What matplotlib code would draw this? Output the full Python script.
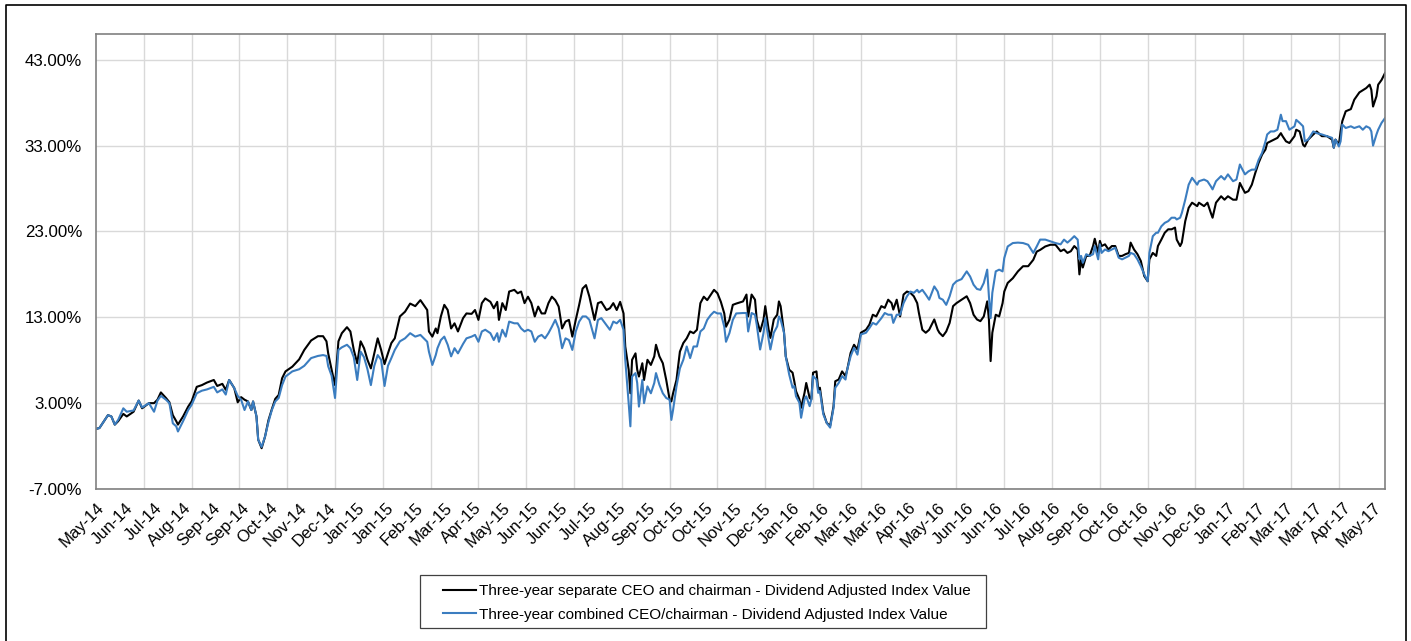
import numpy as np
import matplotlib.pyplot as plt
from matplotlib.lines import Line2D
from matplotlib.patches import Rectangle

plt.rcParams['font.family'] = ['Liberation Sans', 'DejaVu Sans']

# trading-day index (0 = first day) and cumulative index values in %
day = [0, 2, 7, 9, 11, 13, 16, 18, 22, 25, 27, 31, 34, 36, 38, 41, 43, 45, 47, 48,
       51, 54, 56, 59, 62, 65, 69, 71, 74, 76, 78, 81, 83, 85, 87, 89, 91, 92, 94, 95,
       97, 99, 101, 103, 105, 107, 109, 111, 115, 119, 122, 126, 130, 133, 135, 136, 138, 140, 142, 144,
       147, 149, 151, 153, 155, 157, 159, 161, 163, 165, 167, 169, 171, 173, 175, 178, 181, 184, 187, 190,
       194, 195, 197, 199, 200, 202, 204, 206, 208, 210, 212, 215, 217, 220, 222, 224, 226, 228, 231, 233,
       235, 236, 238, 240, 242, 245, 247, 249, 251, 253, 255, 257, 259, 261, 263, 265, 267, 269, 271, 273,
       275, 277, 279, 281, 283, 285, 287, 289, 292, 294, 296, 299, 301, 303, 305, 307, 309, 310, 312, 313,
       314, 316, 317, 318, 320, 321, 323, 325, 327, 328, 330, 332, 334, 336, 337, 338, 340, 342, 344, 346,
       348, 350, 352, 354, 356, 358, 360, 362, 364, 366, 368, 369, 371, 373, 375, 379, 381, 382, 384, 386,
       387, 389, 391, 392, 394, 395, 397, 399, 400, 401, 403, 404, 406, 408, 409, 410, 412, 413, 415, 416,
       418, 419, 420, 422, 423, 424, 426, 428, 430, 432, 433, 435, 437, 439, 440, 442, 444, 446, 448, 451,
       453, 455, 457, 460, 462, 464, 466, 467, 469, 471, 473, 475, 477, 479, 481, 482, 484, 486, 488, 491,
       493, 494, 496, 498, 500, 502, 504, 507, 510, 512, 514, 516, 518, 520, 522, 523, 524, 525, 527, 529,
       531, 532, 534, 537, 540, 543, 546, 549, 551, 553, 556, 559, 562, 565, 567, 569, 571, 573, 575, 576,
       577, 578, 580, 582, 584, 585, 587, 588, 589, 591, 593, 595, 597, 599, 601, 603, 605, 606, 608, 610,
       612, 614, 616, 617, 619, 621, 622, 624, 626, 628, 630, 632, 633, 635, 636, 638, 640, 642, 645, 646,
       649, 651, 653, 654, 656, 659, 661, 663, 666, 668, 670, 671, 673, 675, 677, 679, 681, 683, 685, 686,
       688, 690, 692, 694, 695, 697, 699, 702, 703, 705, 707, 708, 710, 713, 715, 718, 721, 724, 725, 726,
       728, 729, 730, 732, 735, 737, 740, 742, 744, 746, 747, 748, 750, 751, 753, 755]

separate = [0.0, 0.1, 1.6, 1.45, 0.5, 0.9, 1.75, 1.45, 2.0, 3.3, 2.4, 3.0, 3.0, 3.4, 4.25, 3.6, 3.1, 1.6, 0.9, 0.5,
            1.45, 2.6, 3.2, 4.9, 5.1, 5.4, 5.7, 5.0, 5.25, 4.55, 5.7, 4.75, 3.1, 3.7, 3.4, 3.2, 2.2, 3.2, 1.45, -1.25,
            -2.25, -0.9, 1.0, 2.3, 3.5, 3.95, 5.9, 6.7, 7.25, 8.1, 9.2, 10.3, 10.8, 10.8, 10.2, 8.8, 6.9, 5.1, 10.2, 11.15,
            11.85, 11.35, 9.2, 7.65, 10.2, 9.4, 8.05, 7.05, 8.8, 10.55, 9.2, 7.55, 8.8, 10.0, 10.55, 13.1, 13.65, 14.6, 14.3, 15.0,
            13.85, 11.35, 10.75, 11.7, 11.15, 13.1, 14.45, 13.85, 11.7, 12.3, 11.35, 12.9, 13.45, 13.4, 13.85, 12.7, 14.65, 15.2, 14.8, 14.05,
            14.8, 12.7, 14.65, 13.85, 16.0, 16.2, 15.8, 16.0, 14.65, 15.4, 14.65, 13.1, 14.25, 13.45, 13.45, 14.65, 15.4, 15.0, 14.25, 11.7,
            12.5, 12.7, 10.75, 12.7, 14.45, 16.35, 16.75, 15.4, 12.7, 14.65, 14.8, 13.85, 14.05, 14.65, 13.85, 14.8, 13.45, 9.6, 6.9, 4.15,
            8.05, 8.8, 6.9, 6.1, 7.65, 5.7, 8.05, 7.45, 8.45, 9.8, 8.45, 7.65, 5.7, 3.4, 3.2, 4.15, 5.7, 9.0, 10.0, 10.55,
            11.35, 11.15, 11.55, 14.65, 15.4, 15.0, 15.6, 16.2, 15.8, 14.8, 13.45, 11.9, 12.7, 14.45, 14.6, 14.85, 15.65, 13.1, 15.65, 15.05,
            12.75, 11.35, 12.75, 14.3, 11.55, 10.6, 12.75, 13.3, 14.85, 14.3, 11.2, 8.45, 6.9, 6.55, 5.55, 4.4, 3.45, 2.45, 4.2, 5.35,
            3.6, 3.45, 6.55, 6.7, 4.6, 4.8, 1.9, 0.7, 0.35, 2.65, 5.55, 5.75, 6.7, 6.15, 6.9, 8.85, 9.8, 9.25, 11.2, 11.55,
            12.15, 13.3, 13.1, 14.3, 14.1, 15.05, 14.65, 13.9, 15.05, 13.1, 15.65, 16.0, 15.85, 15.45, 14.65, 13.5, 11.55, 11.2, 11.55, 12.75,
            11.55, 11.2, 10.8, 11.35, 12.35, 14.3, 14.65, 15.05, 15.45, 14.65, 13.3, 12.75, 12.55, 13.1, 14.85, 12.75, 7.9, 11.2, 13.3, 13.1,
            14.65, 16.0, 17.0, 17.55, 18.35, 18.95, 18.95, 19.7, 20.65, 20.85, 21.25, 21.45, 21.45, 20.7, 20.9, 20.5, 20.7, 21.3, 20.9, 18.0,
            19.75, 18.8, 20.15, 20.15, 21.3, 22.15, 20.5, 21.9, 21.3, 21.5, 20.9, 21.3, 21.3, 20.15, 20.15, 20.35, 20.5, 21.7, 20.9, 20.35,
            19.55, 17.8, 17.2, 19.75, 20.5, 20.15, 21.3, 22.05, 22.85, 23.25, 23.25, 23.45, 22.05, 21.3, 21.7, 24.2, 25.75, 26.35, 25.95, 26.35,
            25.95, 26.35, 25.15, 24.6, 26.35, 27.1, 26.7, 27.1, 26.7, 26.7, 28.65, 28.25, 27.5, 27.7, 28.45, 29.8, 31.0, 31.95, 32.55, 33.3,
            33.5, 33.7, 33.9, 34.45, 34.1, 33.5, 33.3, 34.1, 34.85, 34.65, 33.1, 32.9, 33.7, 34.3, 34.65, 34.1, 34.1, 33.7, 32.75, 33.7,
            33.1, 34.65, 35.85, 37.0, 37.25, 38.35, 39.2, 39.45, 39.7, 40.1, 39.5, 37.55, 38.75, 40.1, 40.65, 41.45]

combined = [0.0, 0.1, 1.6, 1.45, 0.5, 1.05, 2.4, 2.0, 2.15, 3.3, 2.5, 3.0, 2.0, 3.3, 3.85, 3.4, 3.0, 0.65, 0.3, -0.3,
            0.9, 2.2, 2.8, 4.15, 4.45, 4.6, 4.9, 4.25, 4.6, 4.0, 5.7, 4.75, 3.85, 3.4, 2.2, 3.2, 2.2, 3.2, 1.45, -1.25,
            -2.1, -0.9, 0.8, 2.2, 3.2, 3.6, 5.1, 6.1, 6.7, 6.95, 7.35, 8.25, 8.5, 8.6, 8.5, 7.3, 6.2, 3.6, 9.2, 9.5,
            9.8, 9.4, 8.35, 5.7, 9.0, 8.35, 6.95, 5.1, 7.35, 8.6, 8.05, 5.0, 7.35, 8.25, 9.2, 10.2, 10.55, 11.15, 10.75, 10.95,
            10.15, 9.0, 7.45, 8.6, 9.4, 10.35, 10.75, 9.8, 8.45, 9.4, 8.8, 9.9, 10.55, 10.75, 10.95, 10.15, 11.35, 11.55, 11.15, 10.35,
            11.15, 10.15, 11.55, 10.75, 12.5, 12.3, 12.3, 11.7, 11.35, 11.55, 11.35, 10.15, 10.75, 10.95, 10.55, 11.15, 11.9, 12.7, 11.7, 9.4,
            10.55, 10.35, 9.2, 11.35, 12.5, 13.1, 13.1, 12.7, 10.55, 12.7, 12.9, 12.1, 11.55, 12.5, 12.3, 12.7, 11.55, 8.05, 3.0, 0.3,
            6.1, 6.5, 5.35, 2.6, 5.7, 3.0, 4.95, 4.15, 5.35, 6.5, 5.15, 4.15, 3.6, 3.4, 1.05, 2.2, 4.95, 7.05, 8.05, 9.6,
            8.25, 9.6, 9.6, 11.35, 11.7, 12.7, 13.25, 13.65, 13.45, 13.45, 11.9, 10.15, 11.15, 12.7, 13.45, 13.5, 13.5, 11.35, 13.5, 13.3,
            12.15, 9.25, 11.2, 12.9, 10.4, 9.25, 11.2, 11.95, 13.1, 12.75, 11.2, 8.45, 6.35, 4.8, 5.0, 3.8, 3.05, 1.3, 3.45, 3.8,
            2.65, 3.45, 6.15, 5.75, 4.2, 4.4, 1.7, 0.7, 0.15, 2.45, 4.8, 5.35, 6.15, 5.75, 6.9, 8.45, 9.45, 8.65, 11.0, 11.2,
            11.75, 12.35, 12.15, 12.9, 13.5, 13.3, 13.3, 12.35, 13.3, 13.3, 14.65, 15.45, 16.0, 15.85, 16.2, 15.9, 16.2, 15.65, 15.05, 16.6,
            16.0, 15.25, 15.05, 14.45, 15.45, 16.8, 17.2, 17.45, 18.35, 17.75, 16.8, 16.3, 16.2, 17.0, 18.55, 15.45, 12.9, 15.85, 18.35, 18.55,
            18.35, 19.9, 21.25, 21.65, 21.7, 21.65, 21.45, 20.5, 21.25, 22.05, 22.05, 21.85, 21.65, 21.5, 22.05, 21.7, 22.05, 22.45, 22.05, 19.75,
            20.15, 19.35, 20.35, 20.15, 20.35, 21.3, 19.75, 21.5, 20.5, 20.9, 20.7, 20.9, 21.1, 19.95, 19.75, 19.95, 20.15, 20.5, 20.35, 19.75,
            18.95, 18.0, 17.2, 20.5, 22.45, 22.85, 22.85, 23.6, 24.0, 24.2, 24.6, 24.6, 24.4, 24.6, 25.15, 26.7, 28.45, 29.25, 28.45, 28.85,
            29.05, 28.85, 28.25, 27.9, 28.85, 29.45, 29.05, 29.65, 28.85, 29.05, 30.8, 30.4, 29.65, 30.0, 30.2, 30.2, 31.35, 32.15, 33.5, 34.3,
            34.65, 34.65, 34.85, 36.6, 35.85, 35.85, 34.85, 35.25, 36.0, 35.65, 35.25, 33.5, 33.7, 34.65, 34.45, 34.3, 34.1, 33.9, 32.75, 33.7,
            32.9, 33.5, 35.45, 35.05, 35.25, 35.05, 35.25, 34.85, 35.25, 35.05, 34.65, 33.0, 34.3, 34.85, 35.65, 36.2]

labels = ['May-14', 'Jun-14', 'Jul-14', 'Aug-14', 'Sep-14', 'Sep-14', 'Oct-14', 'Nov-14', 'Dec-14',
          'Jan-15', 'Jan-15', 'Feb-15', 'Mar-15', 'Apr-15', 'May-15', 'Jun-15', 'Jun-15', 'Jul-15',
          'Aug-15', 'Sep-15', 'Oct-15', 'Oct-15', 'Nov-15', 'Dec-15', 'Jan-16', 'Feb-16', 'Mar-16',
          'Mar-16', 'Apr-16', 'May-16', 'Jun-16', 'Jun-16', 'Jul-16', 'Aug-16', 'Sep-16', 'Oct-16',
          'Oct-16', 'Nov-16', 'Dec-16', 'Jan-17', 'Feb-17', 'Mar-17', 'Mar-17', 'Apr-17', 'May-17']

n_days = 756
yticks = [-7, 3, 13, 23, 33, 43]

fig = plt.figure(figsize=(14.11, 6.41), dpi=100)
ax = fig.add_axes([96/1411, 1-489/641, (1385-96)/1411, (489-34)/641])

blue = '#3b7dc0'
ax.plot(day, separate, color='black', lw=1.5,
        label='Three-year separate CEO and chairman - Dividend Adjusted Index Value')
ax.plot(day, combined, color=blue, lw=1.5,
        label='Three-year combined CEO/chairman - Dividend Adjusted Index Value')

ax.set_xlim(0, n_days - 1)
ax.set_ylim(-7, 46)
ax.set_yticks(yticks)
ax.set_yticklabels(['%.2f%%' % v for v in yticks], fontsize=12.2)
ax.set_xticks(np.arange(0, n_days, 17))
ax.set_xticklabels(labels, rotation=45, ha='right', rotation_mode='anchor', fontsize=12)
ax.set_xticks(np.arange(0, n_days, 28), minor=True)
ax.tick_params(axis='both', which='both', length=0)
ax.tick_params(axis='x', pad=8)
ax.tick_params(axis='y', pad=10)
ax.grid(axis='y', which='major', color='#d9d9d9', lw=1)
ax.grid(axis='x', which='minor', color='#d9d9d9', lw=1)
ax.set_axisbelow(True)
for s in ax.spines.values():
    s.set_color('#808080')
    s.set_linewidth(1.2)

handles = [Line2D([], [], color='black', lw=1.5), Line2D([], [], color=blue, lw=1.5)]
fig.legend(handles, [l.get_label() for l in ax.get_lines()], loc='center',
           bbox_to_anchor=(707/1411, 1-603/641), fontsize=11, frameon=False,
           handlelength=2.2, handletextpad=0.2, borderpad=0.2, labelspacing=0.6)
fig.add_artist(Rectangle((420/1411, 1-628/641), 566/1411, 53/641, fill=False,
                         edgecolor='#404040', lw=0.9, transform=fig.transFigure))

# outer chart border
fig.add_artist(Line2D([6/1411, 6/1411, 1406/1411, 1406/1411], [0, 1-5/641, 1-5/641, 0],
                      color='black', lw=1.2, transform=fig.transFigure))

fig.savefig('out.png', dpi=100)
